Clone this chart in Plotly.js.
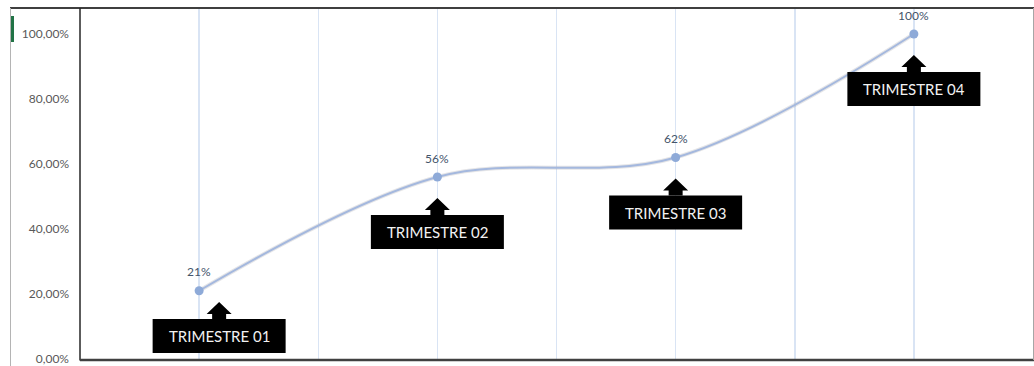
<!DOCTYPE html>
<html>
<head>
<meta charset="utf-8">
<script src="https://cdn.plot.ly/plotly-3.0.1.min.js"></script>
<style>html,body{margin:0;padding:0;background:#fff;}#chart{width:1034px;height:366px;}</style>
</head>
<body>
<div id="chart"></div>
<script>
// ---- data ----
const categories = ["TRIMESTRE 01", "TRIMESTRE 02", "TRIMESTRE 03", "TRIMESTRE 04"];
const values = [0.21, 0.56, 0.62, 1.00];
const valueLabels = ["21%", "56%", "62%", "100%"];
const yTickVals = [0, 0.2, 0.4, 0.6, 0.8, 1.0];

// ---- layout constants ----
const W = 1034, H = 366;
const M = {l: 80, r: 1, t: 8, b: 7};
const yMax = 1.08;
const plotH = H - M.t - M.b;
const ppu = plotH / yMax;
const plotW = W - M.l - M.r;
const BOX_W = 133, BOX_H = 34, ARROW_H = 17, HEAD_H = 12, HEAD_HALF = 12.5, STEM_HALF = 7;
const DEFAULT_GAP = 38;   // px between point and box top
const MIN_BOTTOM = 6;     // px between box bottom and axis
const FIRST_SHIFT = 20;   // callout nudged right when squeezed against the axis

const xIdx = categories.map((c, i) => i);

const shapes = [];
const annotations = [];

categories.forEach((cat, i) => {
  const v = values[i];
  const avail = v * ppu;
  let gap = DEFAULT_GAP;
  let dx = 0;
  if (avail - (gap + BOX_H) < MIN_BOTTOM) { gap = avail - BOX_H - MIN_BOTTOM; dx = FIRST_SHIFT; }
  const boxTop = -gap, boxBot = -gap - BOX_H;
  const tip = boxTop + ARROW_H;
  // box
  shapes.push({type: 'rect', xref: 'x', yref: 'y', xsizemode: 'pixel', ysizemode: 'pixel',
    xanchor: i, yanchor: v, x0: dx - BOX_W / 2, x1: dx + BOX_W / 2, y0: boxBot, y1: boxTop,
    fillcolor: '#000000', line: {width: 0}, layer: 'above'});
  // arrow (house shape)
  const sh = tip - HEAD_H;
  const p = `M ${dx} ${tip} L ${dx + HEAD_HALF} ${sh} L ${dx + STEM_HALF} ${sh} L ${dx + STEM_HALF} ${boxTop} ` +
            `L ${dx - STEM_HALF} ${boxTop} L ${dx - STEM_HALF} ${sh} L ${dx - HEAD_HALF} ${sh} Z`;
  shapes.push({type: 'path', xref: 'x', yref: 'y', xsizemode: 'pixel', ysizemode: 'pixel',
    xanchor: i, yanchor: v, path: p, fillcolor: '#000000', line: {width: 0}, layer: 'above'});
  // box text
  annotations.push({x: i, y: v, xref: 'x', yref: 'y', text: cat, showarrow: false,
    xshift: dx, yshift: -gap - BOX_H / 2, font: {family: 'Lato, Carlito, sans-serif', size: 15, color: '#f2f2f2'}});
  // value label
  annotations.push({x: i, y: v, xref: 'x', yref: 'y', text: valueLabels[i], showarrow: false,
    yshift: 19, font: {family: 'Lato, Carlito, sans-serif', size: 12, color: '#44546a'}});
});

// frame lines (pixel -> paper)
const px = x => (x - M.l) / plotW;
const py = y => (H - M.b - y) / plotH;
shapes.push({type: 'line', xref: 'paper', yref: 'paper', x0: px(10), x1: px(1034), y0: py(8), y1: py(8), line: {color: '#3f3f3f', width: 2}});
shapes.push({type: 'line', xref: 'paper', yref: 'paper', x0: px(10.5), x1: px(10.5), y0: py(8), y1: py(366), line: {color: '#b4b4b4', width: 1}});
shapes.push({type: 'line', xref: 'paper', yref: 'paper', x0: px(12.5), x1: px(12.5), y0: py(16), y1: py(42), line: {color: '#217346', width: 3}});
shapes.push({type: 'line', xref: 'paper', yref: 'paper', x0: 0, x1: 0, y0: py(8), y1: py(360.5), line: {color: '#262626', width: 1.5}});
shapes.push({type: 'line', xref: 'paper', yref: 'paper', x0: 0, x1: px(1034), y0: py(360), y1: py(360), line: {color: '#404040', width: 2.5}});
shapes.push({type: 'line', xref: 'paper', yref: 'paper', x0: px(1033.5), x1: px(1033.5), y0: py(8), y1: py(360), line: {color: '#a6a6a6', width: 1}});

const traces = [
  {x: xIdx, y: values, type: 'scatter', mode: 'lines', hoverinfo: 'skip',
   line: {shape: 'spline', smoothing: 1, color: 'rgba(150,150,160,0.25)', width: 4}, showlegend: false},
  {x: xIdx, y: values, type: 'scatter', mode: 'lines+markers',
   line: {shape: 'spline', smoothing: 1, color: '#a4b8de', width: 2},
   marker: {size: 9, color: '#8eaad8'}, showlegend: false}
];

const layout = {
  width: W, height: H,
  margin: M,
  paper_bgcolor: '#ffffff', plot_bgcolor: '#ffffff',
  separators: ',.',
  showlegend: false,
  xaxis: {range: [-0.5, 3.5], tick0: -0.5, dtick: 0.5, showticklabels: false, ticks: '',
          showgrid: true, gridcolor: '#d9e4f4', gridwidth: 1.5, zeroline: false, showline: false, fixedrange: true},
  yaxis: {range: [0, yMax], tickvals: yTickVals, tickformat: '.2%', showgrid: false, zeroline: false,
          showline: false, ticks: '', ticklabelstandoff: 10, ticklabeloverflow: 'allow',
          tickfont: {family: 'Lato, Carlito, sans-serif', size: 12, color: '#595959'}, fixedrange: true},
  shapes: shapes,
  annotations: annotations
};

Plotly.newPlot('chart', traces, layout, {displayModeBar: false, staticPlot: true});
</script>
</body>
</html>
